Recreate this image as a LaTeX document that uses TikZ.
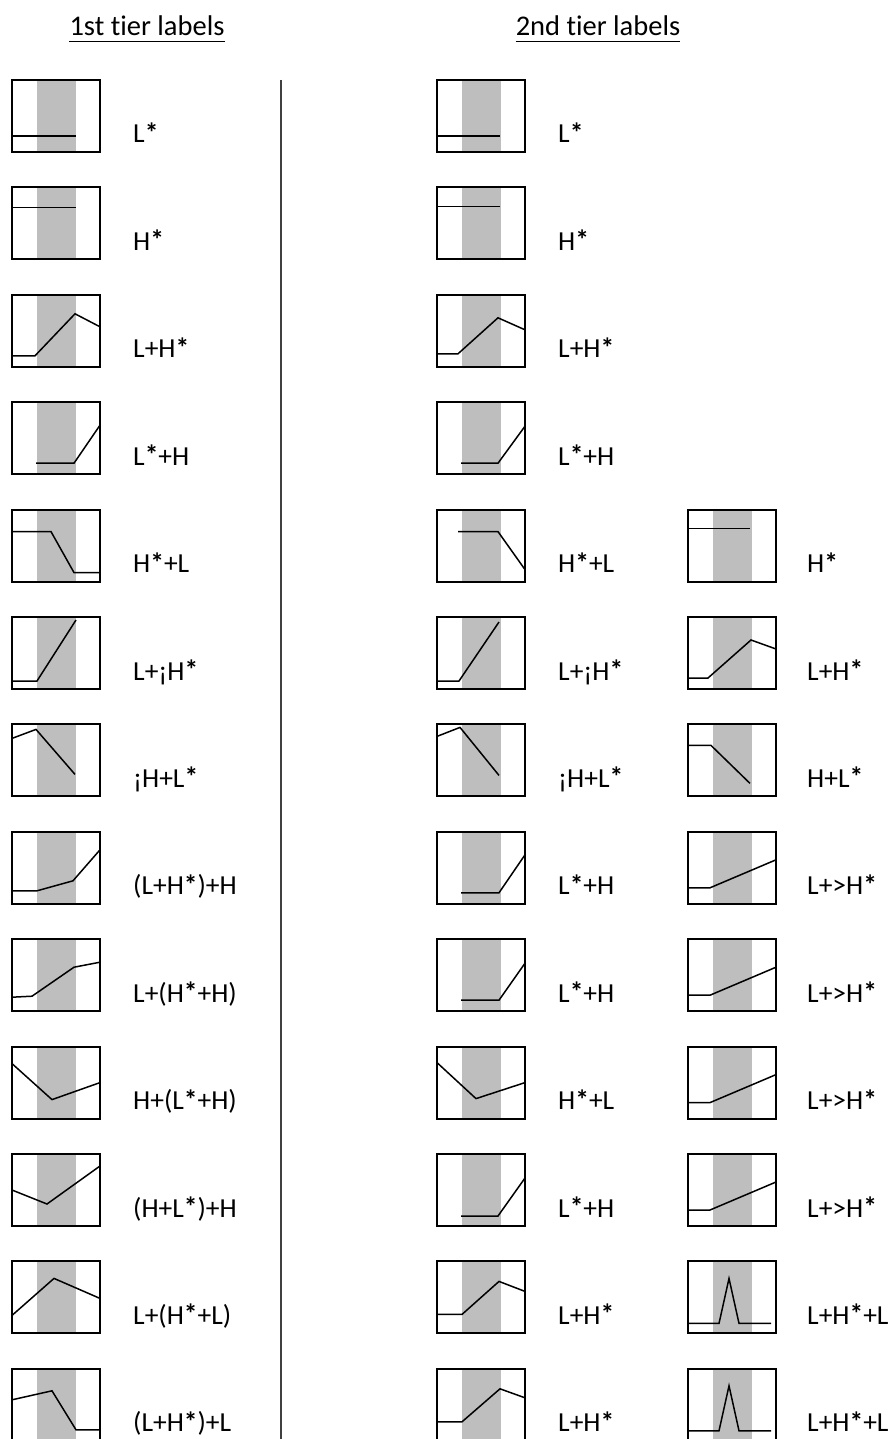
\documentclass[tikz,border=0pt]{standalone}
\usepackage{fontspec}
\setmainfont{Carlito}[RawFeature=-liga]
\definecolor{bandgray}{RGB}{190,190,190}
\newcommand{\as}{\raisebox{0.5pt}{\textbf{*}}}

\begin{document}
\begin{tikzpicture}[x=1pt,y=-1pt,
    frame/.style={line width=2pt},
    contour/.style={line width=1.5pt,line join=miter},
    band/.style={fill=bandgray},
    lab/.style={anchor=base west,inner sep=0pt,font=\fontsize{27.5}{33}\selectfont},
    head/.style={anchor=base,inner sep=0pt,font=\fontsize{28.5}{34}\selectfont}]
    \useasboundingbox (0,0) rectangle (893,1439);
    \clip (0,0) rectangle (893,1439);
    % column headings
    \node[head] (h1) at (147,36) {1st tier labels};
    \node[head] (h2) at (598,36) {2nd tier labels};
    \draw[line width=0.8pt] ([yshift=-5pt]h1.base west) -- ([yshift=-5pt]h1.base east);
    \draw[line width=0.8pt] ([yshift=-5pt]h2.base west) -- ([yshift=-5pt]h2.base east);
    % divider
    \draw[line width=1.7pt,black!75] (281,80) -- (281,1439);
    % 1st tier
    \foreach \r/\c/\t in {
        1/{(0,56) -- (64,56)}/L\as,
        2/{(0,20) -- (64,20)}/H\as,
        3/{(0,61) -- (23,61) -- (63,19) -- (88,32)}/L+H\as,
        4/{(24,61) -- (62,61) -- (88,23)}/L\as+H,
        5/{(0,22) -- (39,22) -- (62,63) -- (88,63)}/H\as+L,
        6/{(0,64) -- (25,64) -- (64,3)}/L+¡H\as,
        7/{(0,14) -- (24,5) -- (63,50)}/¡H+L\as,
        8/{(0,59) -- (25,59) -- (61,49) -- (88,18)}/(L+H\as)+H,
        9/{(0,58) -- (20,57) -- (62,28) -- (88,23)}/L+(H\as+H),
        10/{(0,17) -- (40,53) -- (88,36)}/H+(L\as+H),
        11/{(0,36) -- (35,50) -- (88,12)}/(H+L\as)+H,
        12/{(0,54) -- (42,17) -- (88,37)}/L+(H\as+L),
        13/{(0,31) -- (40,22) -- (64,61) -- (88,61)}/(L+H\as)+L}
    {
        \begin{scope}[shift={(12,{80+107.4*(\r-1)})}]
            \fill[band] (25,0) rectangle (64,72);
            \draw[contour] \c;
            \draw[frame] (0,0) rectangle (88,72);
            \node[lab] (a\r) at (121,63) {\t};
        \end{scope}
    }
    % 2nd tier, first choice
    \foreach \r/\c/\t in {
        1/{(0,56) -- (63,56)}/L\as,
        2/{(0,19) -- (63,19)}/H\as,
        3/{(0,59) -- (21,59) -- (61,23) -- (88,35)}/L+H\as,
        4/{(24,61) -- (61,61) -- (88,24)}/L\as+H,
        5/{(21,22) -- (61,22) -- (88,60)}/H\as+L,
        6/{(0,64) -- (22,64) -- (62,5)}/L+¡H\as,
        7/{(0,12) -- (23,3) -- (62,51)}/¡H+L\as,
        8/{(24,61) -- (62,61) -- (88,23)}/L\as+H,
        9/{(24,61) -- (62,61) -- (88,24)}/L\as+H,
        10/{(0,16) -- (39,52) -- (88,36)}/H\as+L,
        11/{(24,62) -- (61,62) -- (88,24)}/L\as+H,
        12/{(0,53) -- (25,53) -- (62,20) -- (88,30)}/L+H\as,
        13/{(0,53) -- (25,53) -- (63,20) -- (88,29)}/L+H\as}
    {
        \begin{scope}[shift={(437,{80+107.4*(\r-1)})}]
            \fill[band] (25,0) rectangle (64,72);
            \draw[contour] \c;
            \draw[frame] (0,0) rectangle (88,72);
            \node[lab] (b\r) at (121,63) {\t};
        \end{scope}
    }
    % 2nd tier, second choice
    \foreach \r/\c/\t in {
        5/{(0,19) -- (62,19)}/H\as,
        6/{(0,61) -- (20,61) -- (63,23) -- (88,32)}/L+H\as,
        7/{(0,21) -- (23,21) -- (62,59)}/H+L\as,
        8/{(0,56) -- (22,56) -- (88,28)}/L+>H\as,
        9/{(0,56) -- (22,56) -- (88,28)}/L+>H\as,
        10/{(0,56) -- (22,56) -- (88,28)}/L+>H\as,
        11/{(0,56) -- (22,56) -- (88,28)}/L+>H\as,
        12/{(0,62) -- (31,62) -- (41,17) -- (51,62) -- (83,62)}/L+H\as+L,
        13/{(0,62) -- (31,62) -- (41,17) -- (51,62) -- (83,62)}/L+H\as+L}
    {
        \begin{scope}[shift={(688,{80+107.4*(\r-1)})}]
            \fill[band] (25,0) rectangle (64,72);
            \draw[contour] \c;
            \draw[frame] (0,0) rectangle (88,72);
            \node[lab] (c\r) at (119,63) {\t};
        \end{scope}
    }
\end{tikzpicture}
\end{document}
